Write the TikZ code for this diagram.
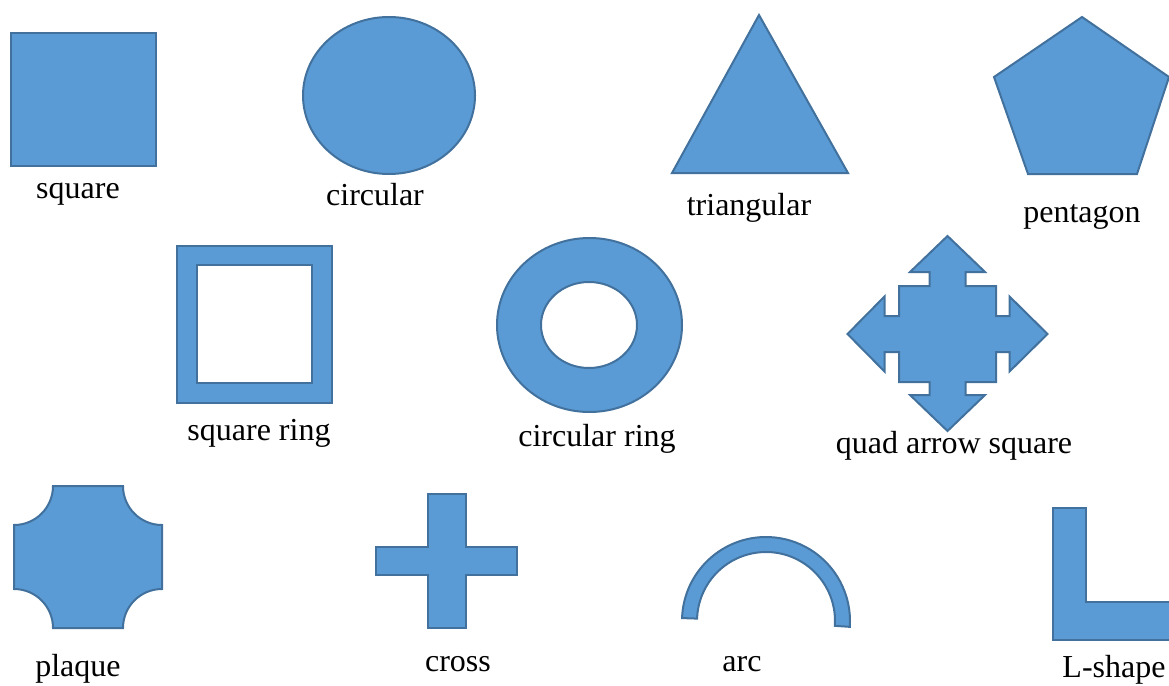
\documentclass[tikz,border=0pt]{standalone}
\usepackage{fontspec}
\setmainfont{Liberation Serif}
\definecolor{shapefill}{HTML}{5B9BD5}
\definecolor{shapeline}{HTML}{41719C}
\begin{document}
\begin{tikzpicture}[x=1pt,y=-1pt,
  shp/.style={fill=shapefill,draw=shapeline,line width=2pt,line join=miter},
  lbl/.style={anchor=base,inner sep=0pt,font=\fontsize{32}{38}\selectfont}]
\useasboundingbox (0,0) rectangle (1169,685);
% square
\draw[shp] (11,33) rectangle (156,166);
\node[lbl] (lsquare) at (78,198) {square};
% circle
\draw[shp] (389,95.5) ellipse [x radius=86,y radius=78.5];
\node[lbl] (lcirc) at (375,205) {circular};
% triangle
\draw[shp] (759,15) -- (848,173) -- (672,173) -- cycle;
\node[lbl] (ltri) at (749,215) {triangular};
% pentagon
\draw[shp] (1082,17) -- (1169,77) -- (1137,174) -- (1028,174) -- (994,77) -- cycle;
\node[lbl] (lpent) at (1082,222) {pentagon};
% square ring
\draw[shp,even odd rule] (177,246) rectangle (332,403) (197,265) rectangle (312,383);
\node[lbl] (lsqr) at (259,440) {square ring};
% circular ring
\draw[shp,even odd rule] (589.5,325) ellipse [x radius=92.5,y radius=87] (589,325) ellipse [x radius=48,y radius=43];
\node[lbl] (lcr) at (597,446) {circular ring};
% quad arrow square
\begin{scope}[shift={(947.5,334)}]
\draw[shp] (0,-98) -- (37.5,-62) -- (18,-62) -- (18,-48) -- (48.5,-48) -- (48.5,-18)
  -- (62,-18) -- (62,-37.5) -- (100,0) -- (62,37.5) -- (62,18) -- (48.5,18)
  -- (48.5,48) -- (18,48) -- (18,61) -- (37.5,61) -- (0,97) -- (-37.5,61) -- (-18,61)
  -- (-18,48) -- (-48.5,48) -- (-48.5,18) -- (-63,18) -- (-63,37.5) -- (-100,0)
  -- (-63,-37.5) -- (-63,-18) -- (-48.5,-18) -- (-48.5,-48) -- (-18,-48) -- (-18,-62)
  -- (-37.5,-62) -- cycle;
\end{scope}
\node[lbl] (lqa) at (954,453) {quad arrow square};
% plaque
\draw[shp] (53,486) -- (123,486) arc[start angle=180,end angle=90,radius=39]
  -- (162,589) arc[start angle=270,end angle=180,radius=39]
  -- (53,628) arc[start angle=0,end angle=-90,radius=39]
  -- (14,525) arc[start angle=90,end angle=0,radius=39] -- cycle;
\node[lbl] (lplaque) at (78,676) {plaque};
% cross
\draw[shp] (428,494) -- (466,494) -- (466,547) -- (517,547) -- (517,575) -- (466,575)
  -- (466,628) -- (428,628) -- (428,575) -- (376,575) -- (376,547) -- (428,547) -- cycle;
\node[lbl] (lcross) at (458,671) {cross};
% arc
\draw[shp] (766,621) ++(182:84) arc[start angle=182,end angle=364,radius=84]
  -- ++(364:-15) arc[start angle=364,end angle=182,radius=69] -- cycle;
\node[lbl] (larc) at (742,671) {arc};
% L-shape
\draw[shp] (1053,508) -- (1086,508) -- (1086,602) -- (1180,602) -- (1180,640) -- (1053,640) -- cycle;
\node[lbl] (lL) at (1114,677) {L-shape};
\end{tikzpicture}
\end{document}
